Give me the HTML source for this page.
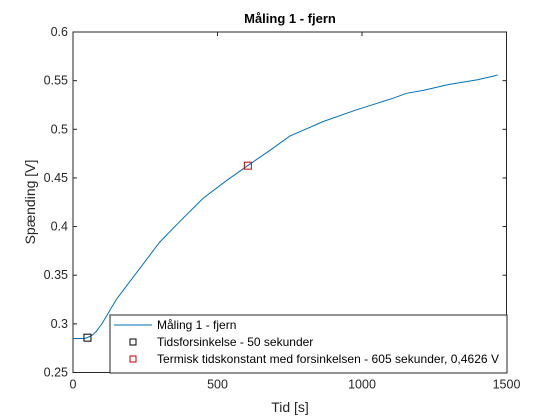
<!DOCTYPE html>
<html><head><meta charset="utf-8"><style>
body{margin:0;background:#fff;}
svg{display:block;font-family:"Liberation Sans",sans-serif;}
</style></head><body>
<svg id="c" width="560" height="420" viewBox="0 0 560 420">
<rect x="0" y="0" width="560" height="420" fill="#fff"/>
<text x="290" y="23" text-anchor="middle" font-size="13" font-weight="bold" fill="#000">Måling 1 - fjern</text>
<text x="290" y="412" text-anchor="middle" font-size="14" fill="#262626">Tid [s]</text>
<text transform="translate(35,202) rotate(-90)" text-anchor="middle" font-size="14" fill="#262626">Spænding [V]</text>
<g id="axes"></g>
<polyline id="line" fill="none" stroke="#0072bd" stroke-width="1"/>
<g id="markers"></g>
<g id="legend">
<rect x="110" y="315" width="397" height="58" fill="#fff" stroke="#262626" stroke-width="1"/>
<line x1="114" y1="325" x2="152" y2="325" stroke="#0072bd"/>
<text x="157" y="329" font-size="12" fill="#000">Måling 1 - fjern</text>
<rect x="130" y="339" width="6" height="6" fill="none" stroke="#000"/>
<text x="157" y="346" font-size="12" fill="#000">Tidsforsinkelse - 50 sekunder</text>
<rect x="130" y="356" width="6" height="6" fill="none" stroke="#c00000"/>
<text x="157" y="363" font-size="12" textLength="342" fill="#000">Termisk tidskonstant med forsinkelsen - 605 sekunder, 0,4626 V</text>
</g>
</svg>
<script>
const times=[0,40,50,65,80,100,150,231,300,369,450,530,606,680,750,866,981,1108,1154,1212,1300,1400,1460,1470];
const volts=[0.285,0.285,0.286,0.288,0.292,0.300,0.325,0.357,0.384,0.405,0.429,0.447,0.463,0.478,0.493,0.508,0.520,0.532,0.537,0.540,0.546,0.551,0.555,0.556];
const xTicks=[0,500,1000,1500];
const yTicks=[0.25,0.3,0.35,0.4,0.45,0.5,0.55,0.6];
const yTickLabels=["0.25","0.3","0.35","0.4","0.45","0.5","0.55","0.6"];
const markerT=[50,605];
const markerV=[0.2858,0.4626];
const markerColors=["#000","#c00000"];
const X0=73,X1=506.5,Y0=372.5,Y1=32;
function sx(t){return X0+(t-0)/(1500)*(X1-X0);}
function sy(v){return Y0-(v-0.25)/(0.35)*(Y0-Y1);}
const NS="http://www.w3.org/2000/svg";
const ax=document.getElementById('axes');
function mk(tag,attrs,parent){const e=document.createElementNS(NS,tag);for(const k in attrs)e.setAttribute(k,attrs[k]);parent.appendChild(e);return e;}
const box=mk('rect',{x:X0,y:Y1,width:X1-X0,height:Y0-Y1,fill:'#fff',stroke:'#262626','stroke-width':1},ax);


xTicks.forEach(t=>{
 const x=sx(t);
 mk('line',{x1:x,y1:Y0,x2:x,y2:Y0-4,stroke:'#262626'},ax);
 mk('line',{x1:x,y1:Y1,x2:x,y2:Y1+4,stroke:'#262626'},ax);
 const tx=mk('text',{x:x,y:Y0+16,'text-anchor':'middle','font-size':'12.5',fill:'#262626'},ax);
 tx.textContent=String(t);
 
 
});
yTicks.forEach((v,i)=>{
 const y=sy(v);
 mk('line',{x1:X0,y1:y,x2:X0+4,y2:y,stroke:'#262626'},ax);
 mk('line',{x1:X1,y1:y,x2:X1-4,y2:y,stroke:'#262626'},ax);
 const tx=mk('text',{x:X0-5,y:y+4,'text-anchor':'end','font-size':'12.5',fill:'#262626'},ax);
 tx.textContent=yTickLabels[i];
 
 
});
document.getElementById('line').setAttribute('points',times.map((t,i)=>sx(t).toFixed(1)+','+sy(volts[i]).toFixed(1)).join(' '));
const mg=document.getElementById('markers');
markerT.forEach((t,i)=>{
 const r=mk('rect',{x:sx(t)-3.5,y:sy(markerV[i])-3.5,width:7,height:7,fill:'none',stroke:markerColors[i]},mg);
 
 
});
</script>
</body></html>
